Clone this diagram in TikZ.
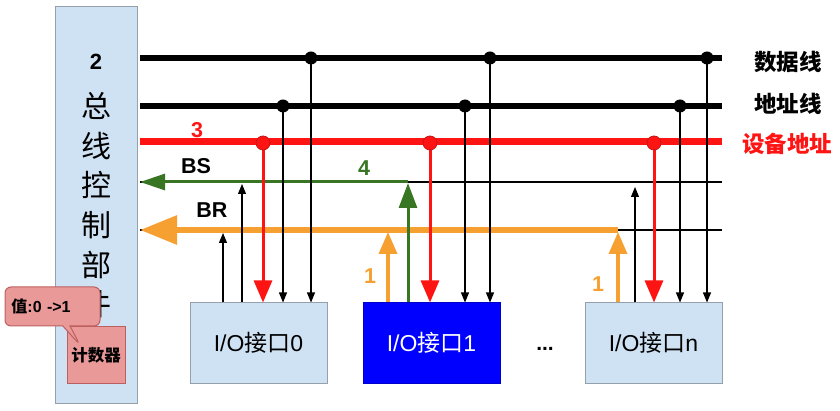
\documentclass[tikz,border=0pt]{standalone}
\usepackage{fontspec}
\setmainfont{Liberation Sans}
\newfontfamily\cjk{Noto Sans CJK SC}
\usetikzlibrary{arrows.meta,shapes.callouts}

\definecolor{panelblue}{RGB}{207,226,243}
\definecolor{panelgray}{RGB}{150,160,170}
\definecolor{busred}{RGB}{255,20,20}
\definecolor{dotred}{RGB}{200,20,20}
\definecolor{busorange}{RGB}{247,160,50}
\definecolor{busgreen}{RGB}{56,118,36}
\definecolor{ioblue}{RGB}{0,0,255}
\definecolor{notepink}{RGB}{234,153,153}
\definecolor{noteedge}{RGB}{190,95,95}

\begin{document}
\begin{tikzpicture}[x=1pt,y=-1pt,
  panel/.style={draw=panelgray,fill=panelblue,line width=1pt,inner sep=0pt},
  iobox/.style={draw=panelgray,fill=panelblue,line width=1pt,minimum width=137pt,minimum height=80pt,inner sep=0pt,font=\fontsize{23}{27}\selectfont},
  iobusy/.style={iobox,draw=ioblue!80!black,fill=ioblue,text=white},
  mainbus/.style={line width=6.5pt},
  addrbus/.style={line width=7pt,busred},
  sigline/.style={line width=1.8pt},
  thinarrow/.style={line width=1.1pt,-{Triangle[length=10pt,width=8pt]}},
  redarrow/.style={line width=3pt,busred,-{Triangle[length=22pt,width=18pt]}},
  orangeup/.style={line width=3.5pt,busorange,-{Triangle[length=22pt,width=18pt]}},
  greenup/.style={line width=3pt,busgreen,-{Triangle[length=25pt,width=18pt]}},
  tap/.style={fill=black},
  redtap/.style={fill=busred,draw=dotred,line width=0.8pt},
  tag/.style={font=\fontsize{21.5}{25}\selectfont\bfseries},
  side/.style={font=\fontsize{22.5}{26}\selectfont\cjk\bfseries}
]
\useasboundingbox (0,0) rectangle (840,411);

% bus control unit
\node[panel,minimum width=82pt,minimum height=396pt] (ctrl) at (96,205) {};
\node[font=\fontsize{22}{26}\selectfont\bfseries] (ctrlnum) at (96,62) {2};
\node[font=\fontsize{30}{39.6}\selectfont\cjk,align=center,anchor=north] (ctrlname) at (96,89)
  {总\\线\\控\\制\\部\\件};

% counter with its note
\node[draw=noteedge,fill=notepink,line width=1pt,minimum width=58pt,minimum height=56pt,inner sep=0pt,
  font=\fontsize{16.5}{19}\selectfont\cjk\bfseries] (cnt) at (96,355) {计数器};
\node[rectangle callout,rounded corners=6pt,draw=noteedge,fill=notepink,line width=1pt,
  callout absolute pointer={(80,345)},text width=82pt,align=left,inner xsep=6.5pt,
  minimum height=39pt,font=\fontsize{16}{19}\selectfont\bfseries] (note) at (52.5,306.5)
  {{\cjk 值}:0 ->1};

% bus end points
\coordinate (dL) at (140,58);  \coordinate (dR) at (722,58);
\coordinate (aL) at (140,106); \coordinate (aR) at (722,106);
\coordinate (rL) at (140,142); \coordinate (rR) at (722,142);
\coordinate (sL) at (140,182); \coordinate (sR) at (722,182);
\coordinate (qL) at (140,230); \coordinate (qR) at (722,230);
\coordinate (sJ) at (408,182);
\coordinate (qJ) at (618,230);

% I/O interfaces
\node[iobox] (io0) at (258.5,343) {I/O{\cjk 接口}0};
\node[iobusy] (io1) at (431.5,343) {I/O{\cjk 接口}1};
\node[iobox] (ion) at (653.5,343) {I/O{\cjk 接口}n};
\node[font=\fontsize{21}{24}\selectfont\bfseries] (dots) at (545,349) {...};

% buses
\draw[mainbus] (dL) -- (dR);
\draw[mainbus] (aL) -- (aR);
\draw[addrbus] (rL) -- (rR);
\draw[sigline] (sL) -- (sR);
\draw[sigline] (qL) -- (qR);
\draw[line width=3pt,busgreen,-{Triangle[length=25pt,width=16pt]}] (sJ) -- (sL);
\draw[line width=6pt,busorange,-{Triangle[length=37pt,width=28pt]}] (qJ) -- (qL);

% tap points on the buses
\coordinate (d0) at (311,58);  \coordinate (a0) at (283,106); \coordinate (r0) at (263,143);
\coordinate (d1) at (490,58);  \coordinate (a1) at (465,106); \coordinate (r1) at (430,143);
\coordinate (dn) at (707,58);  \coordinate (an) at (680,106); \coordinate (rn) at (654,143);
% request / acknowledge tips
\coordinate (q0) at (223,233); \coordinate (s0) at (242,184);
\coordinate (q1) at (388,232); \coordinate (s1) at (408,183);
\coordinate (qn) at (618,232); \coordinate (sn) at (635,187);

% interface 0
\draw[thinarrow] (io0.north -| q0) -- (q0);
\draw[thinarrow] (io0.north -| s0) -- (s0);
\draw[redarrow] (r0) -- (r0 |- io0.north);
\draw[thinarrow] (a0) -- (a0 |- io0.north);
\draw[thinarrow] (d0) -- (d0 |- io0.north);

% interface 1
\draw[orangeup] (io1.north -| q1) -- (q1);
\draw[greenup] (io1.north -| s1) -- (s1);
\draw[redarrow] (r1) -- (r1 |- io1.north);
\draw[thinarrow] (a1) -- (a1 |- io1.north);
\draw[thinarrow] (d1) -- (d1 |- io1.north);

% interface n
\draw[orangeup] (ion.north -| qn) -- (qn);
\draw[thinarrow] (ion.north -| sn) -- (sn);
\draw[redarrow] (rn) -- (rn |- ion.north);
\draw[thinarrow] (an) -- (an |- ion.north);
\draw[thinarrow] (dn) -- (dn |- ion.north);

% junction dots
\foreach \p in {d0,a0,d1,a1,dn,an} \fill[tap] (\p) circle[radius=6.5pt];
\foreach \p in {r0,r1,rn} \filldraw[redtap] (\p) circle[radius=7pt];

% step and signal labels
\node[tag,text=busred] (n3) at (197,130) {3};
\node[tag] (bs) at (196,166) {BS};
\node[tag,text=busgreen] (n4) at (364,168) {4};
\node[tag] (br) at (212,210) {BR};
\node[tag,text=busorange] (n1a) at (370,276) {1};
\node[tag,text=busorange] (n1b) at (598,284) {1};

% bus names
\node[side] (ldata) at (788,62) {数据线};
\node[side] (laddr) at (788,104) {地址线};
\node[side,text=busred] (ldev) at (787,144) {设备地址};
\end{tikzpicture}
\end{document}
